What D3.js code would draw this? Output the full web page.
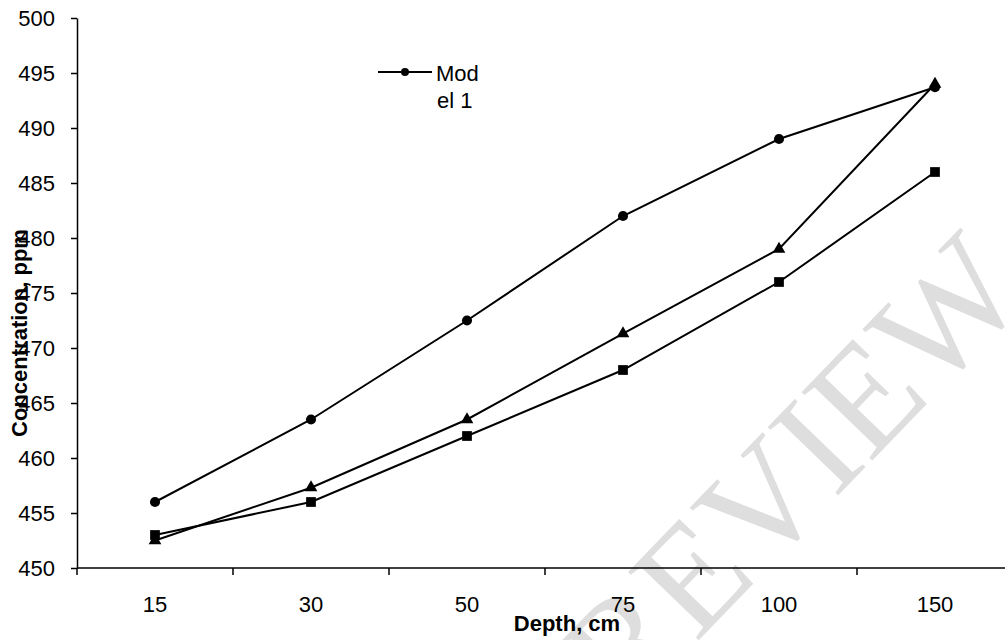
<!DOCTYPE html>
<html>
<head>
<meta charset="utf-8">
<script src="https://d3js.org/d3.v7.min.js"></script>
<style>
  body { margin: 0; background: #fff; }
  text { font-family: "Liberation Sans", Arial, sans-serif; }
</style>
</head>
<body>
<script>
'use strict';

// chart values
var depths = ['15', '30', '50', '75', '100', '150'];
var model1 = [456, 463.5, 472.5, 482, 489, 493.7];   // circles
var model2 = [452.5, 457.3, 463.5, 471.3, 479, 494]; // triangles
var model3 = [453, 456, 462, 468, 476, 486];         // squares
var yTicks = [450, 455, 460, 465, 470, 475, 480, 485, 490, 495, 500];

var width = 1005;
var height = 640;

var svg = d3.select('body')
  .append('svg')
  .attr('width', width)
  .attr('height', height);

// watermark sits behind everything
svg.append('text')
  .attr('transform', 'translate(792,470) rotate(-46)')
  .attr('text-anchor', 'middle')
  .attr('dominant-baseline', 'central')
  .style('font-family', '"Liberation Serif", "Times New Roman", serif')
  .style('font-size', '150px')
  .style('fill', '#dedede')
  .text('REVIEW');

var x = d3.scaleBand()
  .domain(depths)
  .range([77, 1013]);

var y = d3.scaleLinear()
  .domain([450, 500])
  .range([568, 18]);

// y axis
var yAxis = svg.append('g')
  .attr('transform', 'translate(77,0)')
  .call(d3.axisLeft(y).tickValues(yTicks).tickSize(6).tickPadding(16).tickSizeOuter(0));
yAxis.select('.domain').attr('stroke', '#000').attr('stroke-width', 1.5);
yAxis.selectAll('.tick line').attr('stroke-width', 1.5);
yAxis.selectAll('.tick text')
  .style('font-size', '22px')
  .attr('dy', '0.36em');

// x axis: labels centred in bands, ticks on band edges
svg.append('line')
  .attr('x1', 77).attr('x2', 1013)
  .attr('y1', y(450)).attr('y2', y(450))
  .attr('stroke', '#000').attr('stroke-width', 1.5);

var edges = depths.map(function(d) { return x(d); }).concat([x.range()[1]]);
svg.selectAll('line.xtick')
  .data(edges)
  .enter().append('line')
  .attr('class', 'xtick')
  .attr('x1', function(d) { return d; })
  .attr('x2', function(d) { return d; })
  .attr('y1', y(450))
  .attr('y2', y(450) + 7)
  .attr('stroke', '#000').attr('stroke-width', 1.5);

svg.selectAll('text.xlabel')
  .data(depths)
  .enter().append('text')
  .attr('class', 'xlabel')
  .attr('x', function(d) { return x(d) + x.bandwidth() / 2; })
  .attr('y', 612)
  .attr('text-anchor', 'middle')
  .style('font-size', '22px')
  .text(function(d) { return d; });

// axis titles
svg.append('text')
  .attr('x', 567)
  .attr('y', 631)
  .attr('text-anchor', 'middle')
  .style('font-size', '22px')
  .style('font-weight', 'bold')
  .text('Depth, cm');

svg.append('text')
  .attr('transform', 'translate(27,333) rotate(-90)')
  .attr('text-anchor', 'middle')
  .style('font-size', '22px')
  .style('font-weight', 'bold')
  .text('Concentration, ppm');

var line = d3.line()
  .x(function(d, i) { return x(depths[i]) + x.bandwidth() / 2; })
  .y(function(d) { return y(d); });

var series = [
  { name: 'Model 1', values: model1, symbol: d3.symbolCircle, size: 80 },
  { name: 'Model 2', values: model2, symbol: d3.symbolTriangle, size: 70 },
  { name: 'Model 3', values: model3, symbol: d3.symbolSquare, size: 95 }
];

series.forEach(function(s) {
  svg.append('path')
    .datum(s.values)
    .attr('d', line)
    .attr('fill', 'none')
    .attr('stroke', '#000')
    .attr('stroke-width', 2);

  svg.selectAll(null)
    .data(s.values)
    .enter().append('path')
    .attr('transform', function(d, i) {
      return 'translate(' + (x(depths[i]) + x.bandwidth() / 2) + ',' + y(d) + ')';
    })
    .attr('d', d3.symbol().type(s.symbol).size(s.size))
    .attr('fill', '#000');
});

// legend (only the first series is listed, wrapped in two lines)
var legend = svg.append('g');
legend.append('line')
  .attr('x1', 378).attr('x2', 432)
  .attr('y1', 72).attr('y2', 72)
  .attr('stroke', '#000').attr('stroke-width', 2);
legend.append('path')
  .attr('transform', 'translate(405,72)')
  .attr('d', d3.symbol().type(d3.symbolCircle).size(50))
  .attr('fill', '#000');
legend.append('text')
  .attr('x', 436).attr('y', 81)
  .style('font-size', '22px')
  .text('Mod');
legend.append('text')
  .attr('x', 437).attr('y', 108)
  .style('font-size', '22px')
  .text('el 1');
</script>
</body>
</html>
